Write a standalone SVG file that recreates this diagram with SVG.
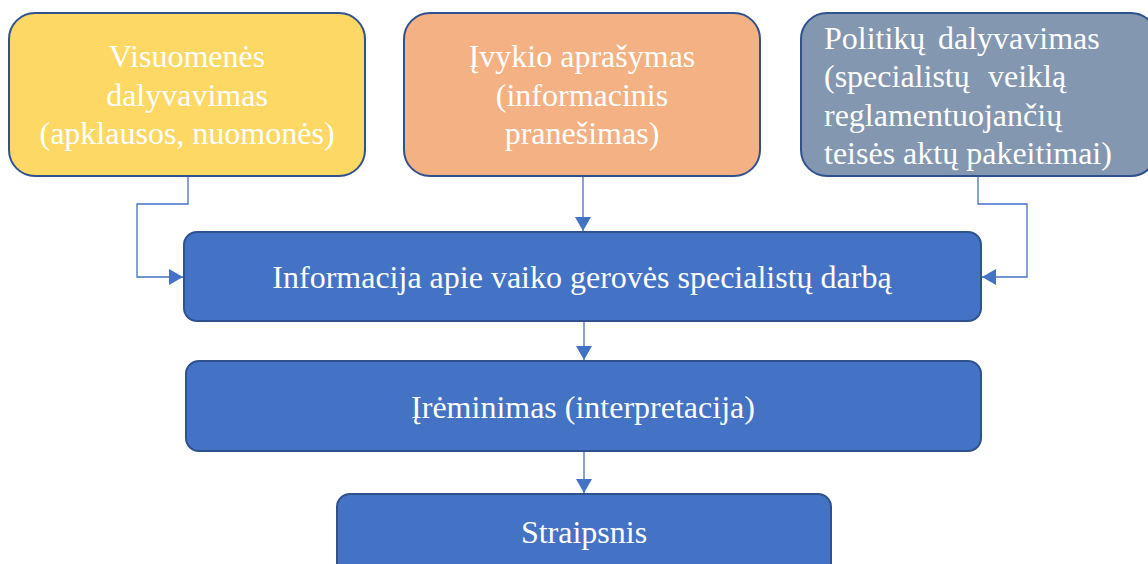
<svg xmlns="http://www.w3.org/2000/svg" width="1148" height="564" viewBox="0 0 1148 564">
<defs>
<style>
.box{stroke:#2F528F;stroke-width:2}
.t{font-family:'Liberation Serif','DejaVu Serif',serif;font-size:32px;fill:#FFFFFF}
.c{text-anchor:middle}
.conn{fill:none;stroke:#4472C4;stroke-width:1.3}
</style>
<marker id="arr" viewBox="0 0 14 16" refX="14" refY="8" markerWidth="14" markerHeight="16" markerUnits="userSpaceOnUse" orient="auto">
<path d="M0,0 L14,8 L0,16 Z" fill="#4472C4"/>
</marker>
</defs>
<rect width="1148" height="564" fill="#FFFFFF"/>
<g id="connectors">
<path class="conn" d="M188,177 V204 H137 V277 H183" marker-end="url(#arr)"/>
<path class="conn" d="M583,177 V231" marker-end="url(#arr)"/>
<path class="conn" d="M978,177 V204 H1027 V277 H982" marker-end="url(#arr)"/>
<path class="conn" d="M584,322 V360" marker-end="url(#arr)"/>
<path class="conn" d="M584,452 V493" marker-end="url(#arr)"/>
</g>
<g id="n1">
<rect class="box" x="9" y="13" width="356" height="163" rx="26" fill="#FDD865"/>
<text class="t c" x="187" y="67">Visuomenės</text>
<text class="t c" x="187" y="106">dalyvavimas</text>
<text class="t c" x="187" y="144">(apklausos, nuomonės)</text>
</g>
<g id="n2">
<rect class="box" x="404" y="13" width="356" height="163" rx="26" fill="#F4B183"/>
<text class="t c" x="582" y="67">Įvykio aprašymas</text>
<text class="t c" x="582" y="106">(informacinis</text>
<text class="t c" x="582" y="144">pranešimas)</text>
</g>
<g id="n3">
<rect class="box" x="801" y="13" width="356" height="163" rx="26" fill="#8497B0"/>
<text class="t" y="49"><tspan x="824">Politikų</tspan><tspan x="938">dalyvavimas</tspan></text>
<text class="t" y="87"><tspan x="824">(specialistų</tspan><tspan x="988">veiklą</tspan></text>
<text class="t" x="824" y="126">reglamentuojančių</text>
<text class="t" x="824" y="164">teisės aktų pakeitimai)</text>
</g>
<g id="n4">
<rect class="box" x="184" y="232" width="797" height="89" rx="13" fill="#4472C4"/>
<text class="t c" x="582" y="288">Informacija apie vaiko gerovės specialistų darbą</text>
</g>
<g id="n5">
<rect class="box" x="186" y="361" width="795" height="90" rx="13" fill="#4472C4"/>
<text class="t c" x="583" y="418">Įrėminimas (interpretacija)</text>
</g>
<g id="n6">
<rect class="box" x="337" y="494" width="494" height="90" rx="13" fill="#4472C4"/>
<text class="t c" x="584" y="543">Straipsnis</text>
</g>
</svg>
